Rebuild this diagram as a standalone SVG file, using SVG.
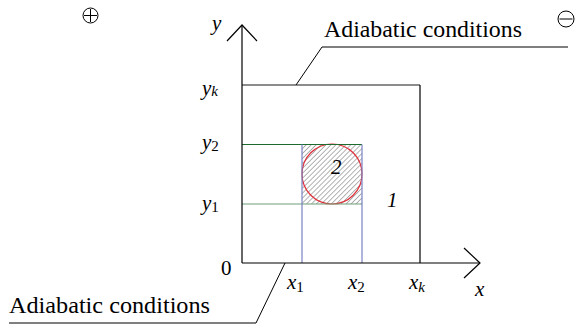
<svg xmlns="http://www.w3.org/2000/svg" width="580" height="328" viewBox="0 0 580 328">
<style>
.ax{stroke:#000;stroke-width:1.2;fill:none}
text{font-family:"Liberation Serif","Times New Roman","DejaVu Serif",serif;fill:#000}
.i{font-style:italic;font-size:21px}
.s{font-size:15px}
.lab{font-size:23.5px}
.ld{stroke:#000;stroke-width:1;fill:none}
</style>
<defs>
<pattern id="hatch" width="3.5" height="3.5" patternUnits="userSpaceOnUse" patternTransform="rotate(45)">
<line x1="0" y1="0" x2="0" y2="3.5" stroke="#666" stroke-width="1"/>
</pattern>
</defs>
<g id="symbols">
<circle cx="90.5" cy="15.5" r="7.5" fill="none" stroke="#000" stroke-width="1"/>
<line x1="84" y1="15.5" x2="97" y2="15.5" stroke="#000" stroke-width="1"/>
<line x1="90.5" y1="9" x2="90.5" y2="22" stroke="#000" stroke-width="1"/>
<circle cx="566" cy="19" r="8" fill="none" stroke="#000" stroke-width="1"/>
<line x1="559.5" y1="19" x2="572.5" y2="19" stroke="#000" stroke-width="1"/>
</g>
<g id="region2">
<rect x="302" y="144.5" width="60" height="59.5" fill="url(#hatch)"/>
<circle cx="332" cy="174" r="30" fill="none" stroke="#e0303a" stroke-width="1.2"/>
<text class="i" x="331" y="174">2</text>
</g>
<g id="gridlines">
<line x1="242" y1="144.5" x2="362" y2="144.5" stroke="#1d6b2e" stroke-width="1.2"/>
<line x1="242" y1="204" x2="362" y2="204" stroke="#6fa07a" stroke-width="1.2"/>
<line x1="302" y1="144.5" x2="302" y2="263" stroke="#7a82c4" stroke-width="1.2"/>
<line x1="362" y1="144.5" x2="362" y2="263" stroke="#7a82c4" stroke-width="1.2"/>
</g>
<g id="region1">
<line x1="242" y1="85" x2="420" y2="85" stroke="#666" stroke-width="1.4"/>
<line x1="420" y1="85" x2="420" y2="263" class="ax"/>
<text class="i" x="387" y="207">1</text>
</g>
<g id="axes">
<line x1="242" y1="263" x2="242" y2="25" class="ax"/>
<polyline points="227,41 242,25 257,41" class="ax"/>
<line x1="242" y1="263" x2="480" y2="263" class="ax"/>
<polyline points="464,248 480,263 464,278" class="ax"/>
</g>
<g id="labels">
<text class="i" x="212" y="30">y</text>
<text class="i" x="202" y="95">y<tspan class="s" dy="1">k</tspan></text>
<text class="i" x="202" y="149">y<tspan class="s" font-style="normal" dy="2">2</tspan></text>
<text class="i" x="202" y="210">y<tspan class="s" font-style="normal" dy="2">1</tspan></text>
<text font-size="21" x="221" y="275">0</text>
<text class="i" x="287" y="289">x<tspan class="s" font-style="normal" dy="3">1</tspan></text>
<text class="i" x="348" y="289">x<tspan class="s" font-style="normal" dy="3">2</tspan></text>
<text class="i" x="409" y="289">x<tspan class="s" dy="3">k</tspan></text>
<text class="i" x="475" y="296">x</text>
</g>
<g id="connectors">
<polyline points="296,85 322,47 568,47" class="ld"/>
<polyline points="285,263 256,323 9,323" class="ld"/>
</g>
<g id="annotations">
<text class="lab" x="324" y="37" textLength="198" lengthAdjust="spacingAndGlyphs">Adiabatic conditions</text>
<text class="lab" x="9" y="313" textLength="201" lengthAdjust="spacingAndGlyphs">Adiabatic conditions</text>
</g>
</svg>
